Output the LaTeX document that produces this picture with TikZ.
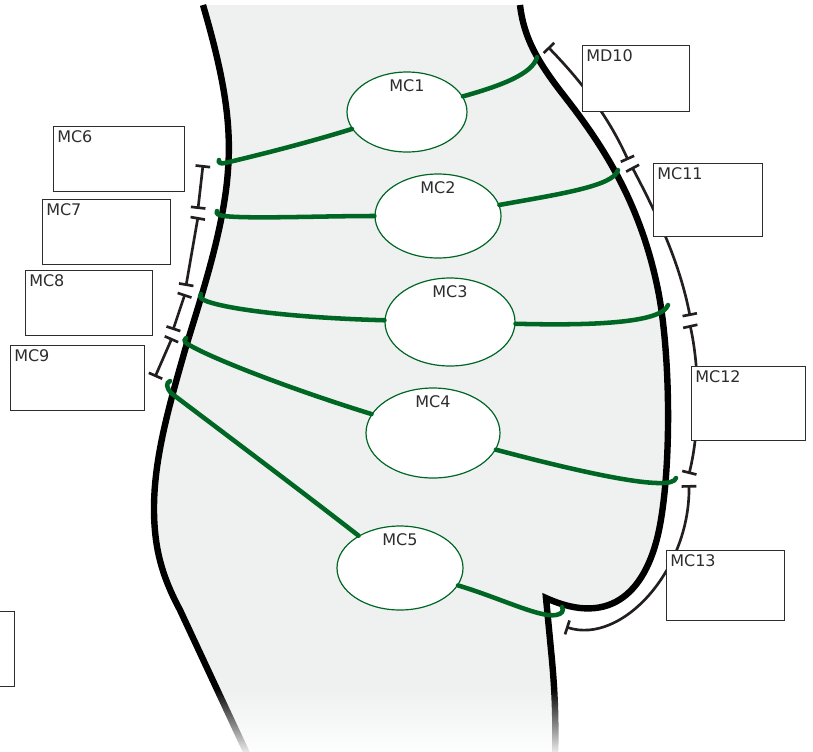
\documentclass[tikz,border=0pt]{standalone}
\usepackage{fontspec}
\setmainfont{DejaVu Sans}
\usetikzlibrary{arrows.meta,fadings,shapes.geometric,positioning}
\definecolor{nervegreen}{RGB}{0,102,36}
\definecolor{bodygray}{RGB}{239,241,241}
\definecolor{inkgray}{RGB}{35,31,32}
\definecolor{textgray}{RGB}{45,45,45}
\tikzfading[name=fadedown, top color=transparent!100, bottom color=transparent!8]
\tikzset{
	mcell/.style={ellipse, draw=nervegreen, line width=0.9pt, fill=white, inner sep=0pt},
	mclabel/.style={font=\fontsize{12}{14}\selectfont, text=textgray, inner sep=2.5pt},
	mcbox/.style={rectangle, draw=textgray, line width=0.9pt, fill=white, inner sep=0pt, anchor=north west},
	nerve/.style={draw=nervegreen, line width=3.4pt, line cap=round},
	spanline/.style={draw=inkgray, line width=2pt, {Bar[width=11pt]}-{Bar[width=11pt]}},
	bodyline/.style={line width=4.8pt}
}

\begin{document}
\begin{tikzpicture}[x=0.75pt, y=-0.75pt]
			%%%%% START %%%%%
			\useasboundingbox (0,0) rectangle (813,751);
			
			% body
			\fill[bodygray] (203,5) .. controls (222,70) and (232,120) .. (228,170) .. controls (224,230) and (200,300) .. (185,350) .. controls (165,420) and (148,480) .. (156,540) .. controls (160,570) and (171,593) .. (180,610) -- (250,760) -- (555,760) .. controls (556,720) and (555,690) .. (551,650) -- (546,598) .. controls (612,628) and (648,590) .. (660,525) .. controls (672,460) and (670,350) .. (658,290) .. controls (640,200) and (600,142) .. (565,97) .. controls (540,65) and (524,40) .. (520,5) -- cycle;
			
			% spans
			\coordinate (s6a) at (203,165);
			\coordinate (s6b) at (198,209);
			\coordinate (s7a) at (198,217);
			\coordinate (s7b) at (186,286);
			\coordinate (s8a) at (185,294);
			\coordinate (s8b) at (173,330);
			\coordinate (s9a) at (172,338);
			\coordinate (s9b) at (155,377);
			\coordinate (s10a) at (548,47);
			\coordinate (s10b) at (628,160);
			\coordinate (s11a) at (632,167);
			\coordinate (s11b) at (690,316);
			\coordinate (s12a) at (690,325);
			\coordinate (s12b) at (689,474);
			\coordinate (s13a) at (689,485);
			\coordinate (s13b) at (566,627);
			
			\draw[spanline] (s6a) -- (s6b);
			\draw[spanline] (s7a) -- (s7b);
			\draw[spanline] (s8a) -- (s8b);
			\draw[spanline] (s9a) -- (s9b);
			\draw[spanline] (s10a) .. controls (585,85) and (610,120) .. (s10b);
			\draw[spanline] (s11a) .. controls (660,220) and (680,265) .. (s11b);
			\draw[spanline] (s12a) .. controls (700,370) and (700,430) .. (s12b);
			\draw[spanline] (s13a) .. controls (690,570) and (622,645) .. (s13b);
			
			% boxes
			\foreach \nm/\t/\x/\y/\w/\h in {bx10/MD10/582/45/80.25/49.5, bx6/MC6/53/126/98.25/48.75, bx7/MC7/42/199/96/48.75, bx8/MC8/25/270/95.25/48.75, bx9/MC9/10/345/100.5/48.75, bx11/MC11/653/163/81.75/54.75, bx12/MC12/691/366/85.5/55.5, bx13/MC13/666/550/88.5/52.5}{
				\node[mcbox, minimum width=\w pt, minimum height=\h pt] (\nm) at (\x,\y) {};
				\node[mclabel, anchor=north west, inner sep=3pt] (\nm lbl) at (\nm.north west) {\t};
			}
			\node[mcbox, anchor=north east, minimum width=75pt, minimum height=56.25pt] (bx0) at (15,611) {};
			
			% outline
			\draw[bodyline] (203,5) .. controls (222,70) and (232,120) .. (228,170) .. controls (224,230) and (200,300) .. (185,350) .. controls (165,420) and (148,480) .. (156,540) .. controls (160,570) and (171,593) .. (180,610) -- (250,760);
			\draw[bodyline] (520,5) .. controls (524,40) and (540,65) .. (565,97) .. controls (600,142) and (640,200) .. (658,290) .. controls (670,350) and (672,460) .. (660,525) .. controls (648,590) and (612,628) .. (546,598) -- (551,650) .. controls (555,690) and (556,720) .. (555,760);
			
			% cells
			\foreach \n/\x/\y/\w/\h in {1/407/112/90/60, 2/438/216/94.5/63, 3/450/322/97.5/66, 4/433/433/100.5/67.5, 5/400/568/94.5/63}{
				\node[mcell, minimum width=\w pt, minimum height=\h pt] (mc\n) at (\x,\y) {};
				\node[mclabel, below, yshift=-3.5pt] (mc\n lbl) at (mc\n.north) {MC\n};
			}
			
			% nerves
			\coordinate (h1l) at (219,160);
			\coordinate (h1r) at (537,57);
			\coordinate (h2l) at (217,211);
			\coordinate (h2r) at (618,170);
			\coordinate (h3l) at (201,294);
			\coordinate (h3r) at (668,305);
			\coordinate (h4l) at (186,338);
			\coordinate (h4r) at (676,478);
			\coordinate (h5l) at (170,381);
			\coordinate (h5r) at (562,607);
			
			\draw[nerve] (mc1) .. controls (300,145) and (250,157) .. (225,163) .. controls (221,164) and (218,163) .. (h1l);
			\draw[nerve] (mc1) .. controls (500,86) and (533,74) .. (h1r);
			\draw[nerve] (mc2) .. controls (320,216) and (250,219) .. (224,216) .. controls (218,215) and (216,214) .. (h2l);
			\draw[nerve] (mc2) .. controls (560,194) and (614,186) .. (h2r);
			\draw[nerve] (mc3) .. controls (300,318) and (230,310) .. (206,301) .. controls (201,299) and (199,297) .. (h3l);
			\draw[nerve] (mc3) .. controls (600,326) and (662,322) .. (h3r);
			\draw[nerve] (mc4) .. controls (300,392) and (220,362) .. (191,346) .. controls (185,343) and (183,341) .. (h4l);
			\draw[nerve] (mc4) .. controls (580,472) and (672,493) .. (h4r);
			\draw[nerve] (mc5) .. controls (300,490) and (200,415) .. (171,393) .. controls (166,387) and (166,383) .. (h5l);
			\draw[nerve] (mc5) .. controls (500,598) and (540,618) .. (556,615) .. controls (562,614) and (564,611) .. (h5r);
			
			% fade out
			\fill[white, path fading=fadedown] (-5,688) rectangle (818,752);
			
			%%%%% END %%%%%
\end{tikzpicture}
\end{document}
